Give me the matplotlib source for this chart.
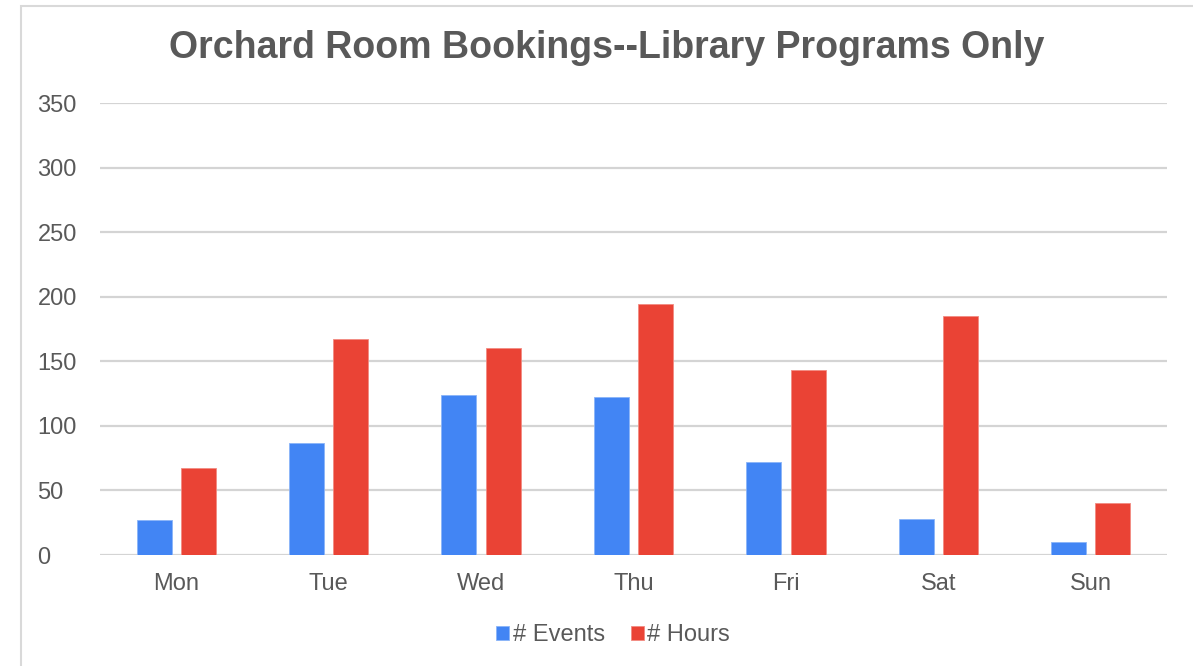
import numpy as np
from matplotlib import pyplot as plt
from matplotlib.patches import Rectangle

days = ["Mon", "Tue", "Wed", "Thu", "Fri", "Sat", "Sun"]
events = [27, 87, 124, 122, 72, 28, 10]
hours = [67, 167, 160, 194, 143, 185, 40]

plt.rcParams["font.family"] = ["Liberation Sans", "DejaVu Sans"]
text_color = "#595959"

fig = plt.figure(figsize=(11.93, 6.66), dpi=100)
ax = fig.add_axes([100 / 1193, 1 - 555 / 666, 1067 / 1193, 452 / 666])

# light frame round the chart, cut off at the right and bottom like the source
fig.patches.append(Rectangle((21 / 1193, -0.1), 1.2, 1 - 6 / 666 + 0.1,
                             transform=fig.transFigure, fill=False,
                             edgecolor="#d9d9d9", linewidth=1.5))

xs = np.arange(len(days))
w = 0.23
ax.bar(xs - 0.145, events, w, color="#4285F4", edgecolor="#8ab4f8",
       linewidth=0.6, label="# Events", zorder=3)
ax.bar(xs + 0.145, hours, w, color="#EA4335", edgecolor="#f28b82",
       linewidth=0.6, label="# Hours", zorder=3)

ax.set_xlim(-0.5, len(days) - 0.5)
ax.set_ylim(0, 350)
ax.set_yticks(range(0, 351, 50))
ax.set_xticks(xs)
ax.set_xticklabels(days)
ax.tick_params(length=0, labelsize=17, colors=text_color, pad=13)
ax.tick_params(axis="y", pad=45)
for lbl in ax.get_yticklabels():
    lbl.set_horizontalalignment("left")
ax.grid(axis="y", color="#d4d4d4", linewidth=1.6, zorder=0)
for s in ax.spines.values():
    s.set_visible(False)

fig.text(607 / 1193, 1 - 48 / 666, "Orchard Room Bookings--Library Programs Only",
         ha="center", va="center", fontsize=27, fontweight="bold", color=text_color)

fig.legend(loc="center", bbox_to_anchor=(613 / 1193, 1 - 635 / 666), ncol=2,
           frameon=False, fontsize=17, labelcolor=text_color, handlelength=0.55,
           handleheight=0.55, handletextpad=0.15, columnspacing=1.1)

fig.savefig("out.png")
